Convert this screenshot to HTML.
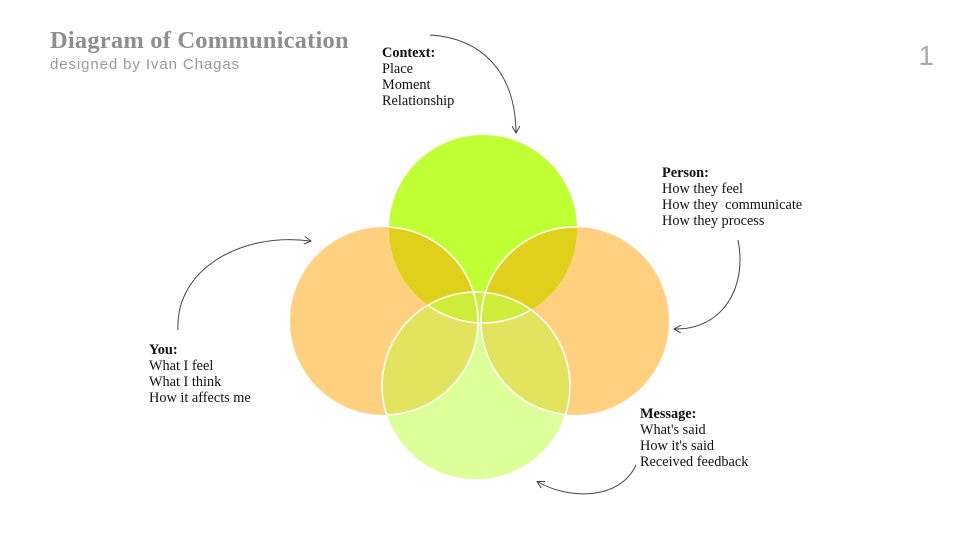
<!DOCTYPE html>
<html><head><meta charset="utf-8"><style>
body{margin:0;width:960px;height:540px;background:#fff;position:relative;overflow:hidden;font-family:"Liberation Serif",serif}
.t{position:absolute;left:50px;top:27px;font-size:24.5px;color:#8e8e8e;font-weight:bold;letter-spacing:0.2px}
.s{position:absolute;left:50px;top:56px;font-family:"Liberation Sans",sans-serif;font-size:15px;color:#999;letter-spacing:0.9px}
.n{position:absolute;right:26px;top:40px;font-family:"Liberation Sans",sans-serif;font-size:28px;color:#aaa}
.l{position:absolute;font-size:14.3px;line-height:16px;color:#111}
.l b{font-weight:bold}
svg{position:absolute;left:0;top:0}
</style></head><body>
<svg width="960" height="540">
<defs>
<clipPath id="T"><circle cx="483" cy="229" r="94"/></clipPath>
<clipPath id="L"><circle cx="384" cy="321" r="94"/></clipPath>
<clipPath id="R"><circle cx="575" cy="321" r="94"/></clipPath>
<clipPath id="B"><circle cx="476" cy="386" r="94"/></clipPath>
<marker id="a" markerWidth="8" markerHeight="8" refX="6" refY="4" orient="auto"><path d="M0,0 L7,4 L0,8" fill="none" stroke="#444" stroke-width="1"/></marker>
</defs>
<circle cx="384" cy="321" r="94" fill="#ffd080"/>
<circle cx="575" cy="321" r="94" fill="#ffd080"/>
<circle cx="483" cy="229" r="94" fill="#c0ff33"/>
<circle cx="476" cy="386" r="94" fill="#dcff99"/>
<g clip-path="url(#T)"><circle cx="384" cy="321" r="94" fill="#e0d01c"/><circle cx="575" cy="321" r="94" fill="#e0d01c"/></g>
<g clip-path="url(#B)"><circle cx="384" cy="321" r="94" fill="#e2e460"/><circle cx="575" cy="321" r="94" fill="#e2e460"/><circle cx="483" cy="229" r="94" fill="#d0ec3a"/></g>
<g fill="none" stroke="#fff" stroke-width="1.5">
<circle cx="384" cy="321" r="94" clip-path="url(#T)"/><circle cx="575" cy="321" r="94" clip-path="url(#T)"/>
<circle cx="384" cy="321" r="94" clip-path="url(#B)"/><circle cx="575" cy="321" r="94" clip-path="url(#B)"/>
<circle cx="476" cy="386" r="94"/><circle cx="483" cy="229" r="94" clip-path="url(#B)"/>
</g>
<g fill="none" stroke="#444" stroke-width="1" marker-end="url(#a)">
<path d="M430,35 C480,38 515,70 516,132"/>
<path d="M738,240 C748,290 720,330 675,329"/>
<path d="M636,465 C620,500 570,500 538,482"/>
<path d="M178,330 C175,270 240,232 310,241"/>
</g>
</svg>
<div class="t">Diagram of Communication</div>
<div class="s">designed by Ivan Chagas</div>
<div class="n">1</div>
<div class="l" style="left:382px;top:45px"><b>Context:</b><br>Place<br>Moment<br>Relationship</div>
<div class="l" style="left:662px;top:165px"><b>Person:</b><br>How they feel<br>How they &nbsp;communicate<br>How they process</div>
<div class="l" style="left:149px;top:342px"><b>You:</b><br>What I feel<br>What I think<br>How it affects me</div>
<div class="l" style="left:640px;top:406px"><b>Message:</b><br>What's said<br>How it's said<br>Received feedback</div>
</body></html>
